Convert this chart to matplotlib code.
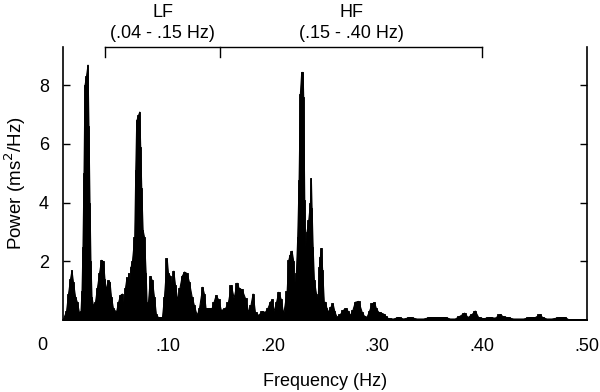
import numpy as np
from matplotlib import pyplot as plt

plt.rcParams['font.family'] = ['Liberation Sans', 'DejaVu Sans']

# spectrum (Hz, ms^2/Hz)
freq = [0.0, 0.0029, 0.0048, 0.0067, 0.0081, 0.0095, 0.0115, 0.0134, 0.0153, 0.0167,
        0.0177, 0.0186, 0.0196, 0.0205, 0.0219, 0.0234, 0.0243, 0.0253, 0.0262, 0.0272,
        0.0286, 0.0305, 0.0324, 0.0344, 0.0363, 0.0382, 0.0396, 0.0410, 0.0425, 0.0444,
        0.0458, 0.0477, 0.0506, 0.0525, 0.0544, 0.0563, 0.0577, 0.0592, 0.0606, 0.0615,
        0.0625, 0.0635, 0.0644, 0.0658, 0.0680, 0.0690, 0.0699, 0.0718, 0.0728, 0.0737,
        0.0747, 0.0760, 0.0773, 0.0789, 0.0799, 0.0811, 0.0830, 0.0849, 0.0868, 0.0887,
        0.0906, 0.0945, 0.0964, 0.0990, 0.1002, 0.1021, 0.1035, 0.1053, 0.1069, 0.1091,
        0.1112, 0.1133, 0.1155, 0.1180, 0.1202, 0.1228, 0.1250, 0.1276, 0.1298, 0.1329,
        0.1345, 0.1361, 0.1418, 0.1436, 0.1457, 0.1482, 0.1507, 0.1546, 0.1574, 0.1603,
        0.1629, 0.1657, 0.1679, 0.1705, 0.1737, 0.1768, 0.1789, 0.1810, 0.1832, 0.1864,
        0.1896, 0.1927, 0.1951, 0.1975, 0.1997, 0.2007, 0.2033, 0.2055, 0.2080, 0.2102,
        0.2135, 0.2150, 0.2161, 0.2182, 0.2198, 0.2207, 0.2223, 0.2236, 0.2249, 0.2261,
        0.2274, 0.2287, 0.2293, 0.2303, 0.2312, 0.2324, 0.2341, 0.2357, 0.2366, 0.2373,
        0.2383, 0.2395, 0.2414, 0.2421, 0.2433, 0.2443, 0.2452, 0.2462, 0.2474, 0.2490,
        0.2500, 0.2516, 0.2532, 0.2552, 0.2573, 0.2590, 0.2611, 0.2643, 0.2672, 0.2700,
        0.2719, 0.2739, 0.2763, 0.2786, 0.2818, 0.2851, 0.2872, 0.2898, 0.2920, 0.2946,
        0.2970, 0.2987, 0.3009, 0.3056, 0.3082, 0.3104, 0.3151, 0.3199, 0.3247, 0.3311,
        0.3375, 0.3438, 0.3502, 0.3566, 0.3645, 0.3693, 0.3740, 0.3788, 0.3829, 0.3862,
        0.3900, 0.3931, 0.3963, 0.4010, 0.4074, 0.4122, 0.4170, 0.4201, 0.4234, 0.4297,
        0.4345, 0.4392, 0.4456, 0.4504, 0.4552, 0.4573, 0.4615, 0.4663, 0.4742, 0.4790,
        0.4821, 0.4885, 0.5000]
power = [0.05, 0.3, 0.9, 1.4, 1.7, 1.3, 0.8, 0.6, 0.25, 0.3,
         1.0, 2.5, 5.0, 8.0, 8.3, 8.7, 6.6, 4.0, 2.0, 0.8,
         0.5, 0.6, 1.1, 1.6, 2.05, 2.0, 1.4, 1.0, 1.35, 1.3,
         0.8, 0.4, 0.28, 0.6, 0.85, 0.9, 0.4, 1.1, 1.45, 1.2,
         1.6, 0.5, 1.8, 2.0, 2.84, 5.1, 6.8, 7.0, 7.1, 5.9,
         4.5, 3.07, 2.84, 1.6, 0.5, 0.6, 1.5, 1.35, 0.8, 0.2,
         0.1, 0.1, 0.8, 2.1, 1.6, 1.5, 1.1, 1.68, 1.2, 0.68,
         1.1, 1.5, 1.65, 1.6, 1.3, 0.8, 0.5, 0.17, 0.4, 1.13,
         0.9, 0.4, 0.4, 0.6, 0.85, 0.7, 0.34, 0.4, 0.6, 1.19,
         0.75, 1.27, 1.08, 1.05, 0.75, 0.28, 0.5, 0.9, 0.28, 0.17,
         0.3, 0.28, 0.4, 0.62, 0.7, 0.28, 0.6, 0.96, 0.7, 0.2,
         1.0, 2.04, 2.2, 2.36, 2.0, 0.9, 1.6, 2.84, 4.77, 7.7,
         8.45, 8.45, 7.6, 4.1, 1.6, 3.0, 3.4, 3.98, 4.83, 3.8,
         2.5, 1.36, 0.92, 0.57, 0.9, 1.8, 2.16, 2.45, 1.7, 0.6,
         0.62, 0.4, 0.28, 0.45, 0.57, 0.3, 0.11, 0.2, 0.35, 0.4,
         0.3, 0.17, 0.35, 0.62, 0.65, 0.28, 0.15, 0.11, 0.3, 0.57,
         0.6, 0.4, 0.28, 0.22, 0.12, 0.06, 0.05, 0.1, 0.05, 0.1,
         0.05, 0.05, 0.1, 0.1, 0.1, 0.05, 0.05, 0.15, 0.25, 0.1,
         0.2, 0.32, 0.1, 0.06, 0.1, 0.08, 0.2, 0.12, 0.1, 0.05,
         0.05, 0.05, 0.1, 0.1, 0.2, 0.1, 0.05, 0.05, 0.1, 0.1,
         0.03, 0.02, 0.02]

yticks = [2, 4, 6, 8]
xticks = [0.1, 0.2, 0.3, 0.4, 0.5]
xtick_labels = ['.10', '.20', '.30', '.40', '.50']

# frequency bands shown by the bracket
lf_band = (0.04, 0.15)
hf_band = (0.15, 0.40)

fig = plt.figure(figsize=(6, 3.92), dpi=100)
ax = fig.add_axes([0.105, 0.1837, 0.873, 0.6963])

# stepped fill plus a plain one underneath so the gaps between steps close up
ax.fill_between(freq, power, 0, color='black', linewidth=0.8, edgecolor='black')
ax.fill_between(freq, power, 0, step='mid', color='black', linewidth=0.6,
                edgecolor='black')

ax.set_xlim(0, 0.5)
ax.set_ylim(0, 9.3)
ax.set_yticks(yticks)
ax.set_yticklabels([str(t) for t in yticks])
ax.set_xticks(xticks)
ax.set_xticklabels(xtick_labels)
ax.tick_params(axis='y', direction='in', length=5, width=1, pad=10,
               labelsize=13, right=True)
ax.tick_params(axis='x', length=0, pad=13, labelsize=13)
ax.spines['top'].set_visible(False)
for s in ['left', 'right', 'bottom']:
    ax.spines[s].set_linewidth(1.2)

ax.set_xlabel('Frequency (Hz)', fontsize=13, labelpad=13)
ax.set_ylabel('Power (ms$^2$/Hz)', fontsize=13.5, labelpad=8)
fig.text(42 / 600, 1 - 345 / 392, '0', fontsize=13, ha='center', va='center')

# LF / HF bracket above the plot
top = 9.3
tick = 0.35
ax.plot([lf_band[0], hf_band[1]], [top, top], color='black', lw=1, clip_on=False)
for f in [lf_band[0], lf_band[1], hf_band[1]]:
    ax.plot([f, f], [top, top - tick], color='black', lw=1, clip_on=False)

for band, name in [(lf_band, 'LF'), (hf_band, 'HF')]:
    mid = (band[0] + band[1]) / 2
    ax.annotate(name, (mid, top), xytext=(0, 35), textcoords='offset pixels',
                ha='center', va='center', fontsize=13, annotation_clip=False)
    ax.annotate('(%s - %s Hz)' % (('%.2f' % band[0])[1:], ('%.2f' % band[1])[1:]),
                (mid, top), xytext=(0, 14), textcoords='offset pixels',
                ha='center', va='center', fontsize=13, annotation_clip=False)

fig.savefig('out.png', dpi=100)
